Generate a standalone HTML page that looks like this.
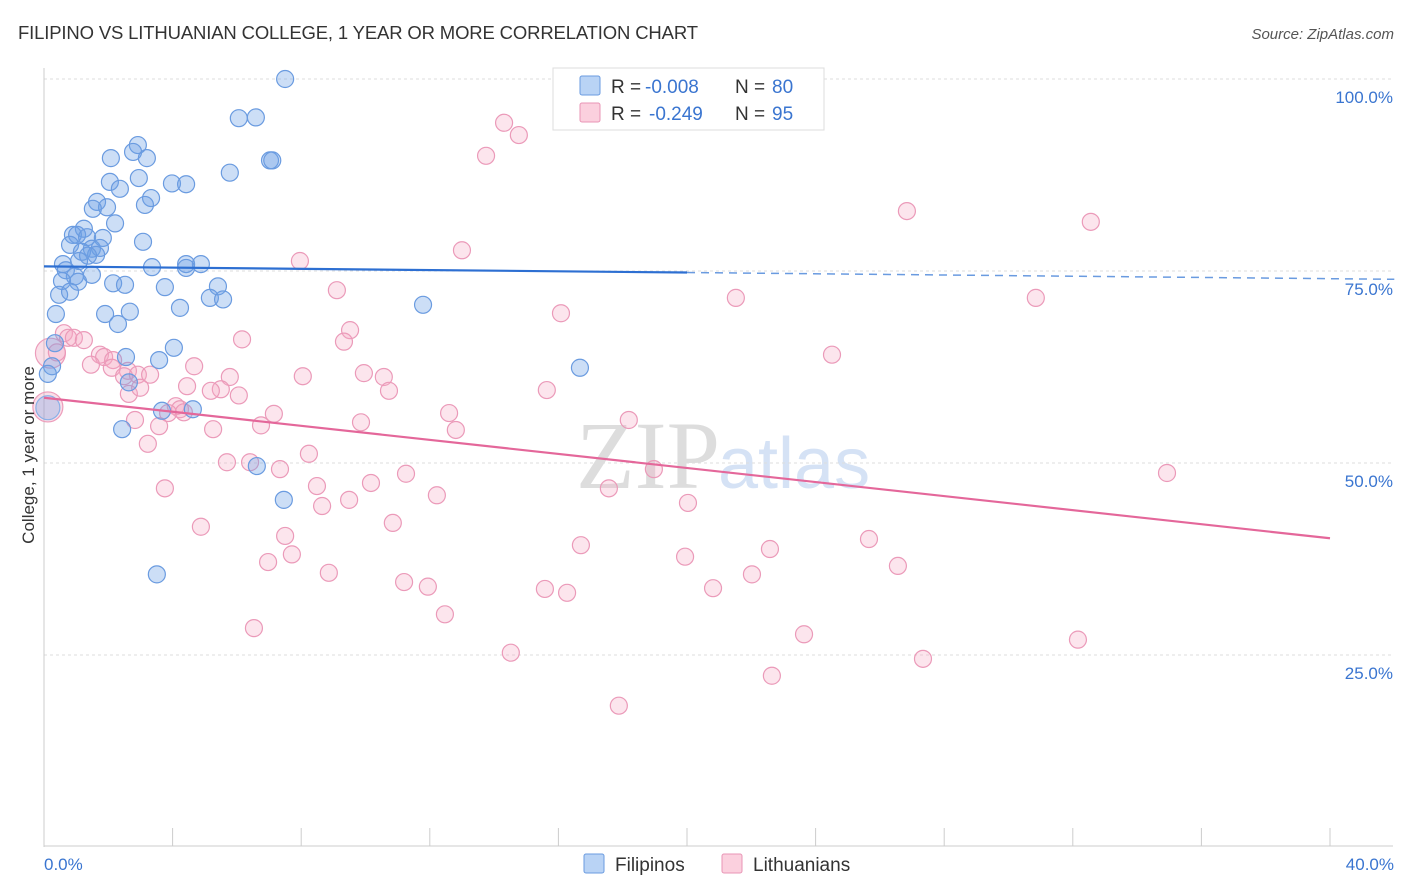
<!DOCTYPE html>
<html><head><meta charset="utf-8">
<style>
body{margin:0;background:#fff;font-family:"Liberation Sans",sans-serif;}
svg{display:block}
</style></head>
<body>
<svg id="chart" width="1406" height="892">
<text x="18" y="39" font-size="18.5" fill="#333" textLength="680">FILIPINO VS LITHUANIAN COLLEGE, 1 YEAR OR MORE CORRELATION CHART</text>
<text x="1394" y="39" font-size="15" fill="#555" font-style="italic" text-anchor="end">Source: ZipAtlas.com</text>
<text x="720" y="488" font-size="96" fill="#ddd" text-anchor="end" font-family="Liberation Serif,serif">ZIP</text>
<text x="718" y="488" font-size="72" fill="#d5e2f5">atlas</text>
<g id="grid"></g>
<g id="axes"></g>
<g id="marks"></g>
<text transform="translate(34,455) rotate(-90)" font-size="17" fill="#333" text-anchor="middle">College, 1 year or more</text>
<text x="44" y="870" font-size="17" fill="#3a75d0">0.0%</text>
<text x="1394" y="870" font-size="17" fill="#3a75d0" text-anchor="end">40.0%</text>
<g>
<rect x="553" y="68" width="271" height="62" fill="#fff" stroke="#ddd"/>
<rect x="580" y="76" width="20" height="19" fill="#b9d3f5" stroke="#6a9be0" rx="2"/>
<rect x="580" y="103" width="20" height="19" fill="#fbd0de" stroke="#e895b5" rx="2"/>
<text x="611" y="93" font-size="19" fill="#333">R =</text>
<text x="645" y="93" font-size="19" fill="#3a75d0">-0.008</text>
<text x="735" y="93" font-size="19" fill="#333">N =</text>
<text x="772" y="93" font-size="19" fill="#3a75d0">80</text>
<text x="611" y="120" font-size="19" fill="#333">R =</text>
<text x="649" y="120" font-size="19" fill="#3a75d0">-0.249</text>
<text x="735" y="120" font-size="19" fill="#333">N =</text>
<text x="772" y="120" font-size="19" fill="#3a75d0">95</text>
</g>
<g>
<rect x="584" y="854" width="20" height="19" fill="#b9d3f5" stroke="#6a9be0" rx="2"/>
<text x="615" y="871" font-size="19" fill="#333">Filipinos</text>
<rect x="722" y="854" width="20" height="19" fill="#fbd0de" stroke="#e895b5" rx="2"/>
<text x="753" y="871" font-size="19" fill="#333">Lithuanians</text>
</g>
</svg>
<script>
const blueX=[7.50,6.06,6.59,2.92,2.77,3.20,2.08,7.03,5.78,2.95,2.05,3.98,4.42,2.36,3.33,3.14,1.65,1.96,1.52,2.21,1.24,0.90,1.03,1.34,1.83,3.08,0.81,1.49,1.74,1.18,1.62,1.37,1.09,0.59,4.42,4.88,4.42,3.36,0.68,0.96,1.49,0.56,1.06,2.15,2.52,5.41,3.76,0.47,0.81,5.16,5.57,4.23,11.79,0.37,1.90,2.67,2.30,0.34,4.04,2.55,3.58,0.25,0.12,16.67,2.64,3.67,4.63,2.43,6.62,7.46,3.51,7.1];
const blueY=[100.0,94.9,95.0,91.4,90.5,89.7,89.7,89.4,87.8,87.1,86.6,86.4,86.3,85.7,84.5,83.6,84.0,83.3,83.1,81.2,80.5,79.7,79.7,79.4,79.3,78.8,78.4,77.9,78.0,77.5,77.1,77.0,76.3,75.9,75.9,75.9,75.4,75.5,75.1,74.3,74.5,73.7,73.6,73.4,73.2,73.0,72.9,71.9,72.3,71.5,71.3,70.2,70.6,69.4,69.4,69.7,68.1,65.6,65.0,63.8,63.4,62.6,61.6,62.4,60.5,56.8,57.0,54.4,49.6,45.2,35.5,89.4];
const pinkX=[14.31,14.77,13.75,26.84,32.56,13.00,7.96,9.11,21.52,30.85,16.08,9.52,6.16,9.33,0.62,0.75,0.93,1.24,0.40,24.51,1.74,1.87,2.15,1.46,4.67,2.11,2.61,2.49,2.92,3.30,5.78,8.05,9.95,10.57,4.45,5.50,10.73,15.64,5.19,6.06,2.64,2.99,4.10,4.23,3.86,4.35,7.15,12.60,2.83,3.58,9.86,18.19,5.26,6.75,12.81,3.23,5.69,6.41,8.24,7.34,18.97,11.26,34.93,8.49,10.17,3.76,17.57,12.22,9.49,8.65,20.03,10.85,4.88,7.50,16.70,25.66,22.58,7.71,6.97,19.94,8.86,22.02,26.56,11.20,11.94,15.58,16.27,20.81,12.47,6.53,23.64,32.16,14.52,27.34,22.64,17.88];
const pinkY=[94.3,92.7,90.0,82.8,81.4,77.7,76.3,72.5,71.5,71.5,69.5,67.3,66.1,65.8,66.9,66.3,66.3,66.0,64.4,64.1,64.1,63.8,63.4,62.8,62.6,62.4,62.0,61.3,61.5,61.5,61.2,61.3,61.7,61.2,60.0,59.6,59.4,59.5,59.4,58.8,59.0,59.8,57.4,57.0,56.5,56.6,56.4,56.5,55.6,54.8,55.3,55.6,54.4,54.9,54.3,52.5,50.1,50.1,51.2,49.2,49.2,48.6,48.7,47.0,47.4,46.7,46.7,45.8,45.2,44.4,44.8,42.2,41.7,40.5,39.3,40.1,38.8,38.1,37.1,37.8,35.7,35.5,36.6,34.5,33.9,33.6,33.1,33.7,30.3,28.5,27.7,27.0,25.3,24.5,22.3,18.4];
const bigPinkX=[0.12,0.2], bigPinkY=[57.3,64.3], bigBlueX=[0.12], bigBlueY=[57.2];
const yTicks=[100,75,50,25];
const yTickLabels=["100.0%","75.0%","50.0%","25.0%"];
const blueTrend=[75.6,74.8];
const pinkTrend=[58.5,40.2];
const xS=v=>44+v/40*1286, yS=v=>847-v/100*768;
const NS="http://www.w3.org/2000/svg";
function mk(p,t,a){const e=document.createElementNS(NS,t);for(const k in a)e.setAttribute(k,a[k]);p.appendChild(e);return e;}
const grid=document.getElementById('grid'),axes=document.getElementById('axes'),marks=document.getElementById('marks');
yTicks.forEach((t,i)=>{
 const l=mk(grid,'line',{x1:44,x2:1393,y1:yS(t),y2:yS(t),stroke:'#ddd','stroke-dasharray':'3,3'});
 
 
 const tx=mk(grid,'text',{x:1393,y:yS(t)+24,'font-size':17,fill:'#3a75d0','text-anchor':'end'});
 tx.textContent=yTickLabels[i];
 
 
});
const ax=mk(axes,'line',{x1:44,x2:44,y1:68,y2:847,stroke:'#ccc'});


const bx=mk(axes,'line',{x1:44,x2:1393,y1:846,y2:846,stroke:'#ccc'});


for(let i=0;i<=10;i++){const t=mk(axes,'line',{x1:xS(i*4),x2:xS(i*4),y1:828,y2:846,stroke:'#ccc'});
 
 }
function dots(X,Y,fill,stroke,r,name){X.forEach((x,i)=>{const c=mk(marks,'circle',{cx:xS(x),cy:yS(Y[i]),r:r,fill:fill,stroke:stroke,'stroke-width':1.2});
 
 });}
dots(bigPinkX,bigPinkY,'rgba(240,150,180,0.3)','#ec9dbb',15,'lithuanian-point-large');
dots(bigBlueX,bigBlueY,'rgba(110,160,230,0.3)','#8ab0e8',12,'filipino-point-large');
dots(pinkX,pinkY,'rgba(245,170,195,0.3)','#eb9ab9',8.5,'lithuanian-point');
dots(blueX,blueY,'rgba(110,160,230,0.35)','#6a9be0',8.5,'filipino-point');
const bl=mk(marks,'line',{x1:xS(0),y1:yS(blueTrend[0]),x2:xS(20),y2:yS(blueTrend[1]),stroke:'#2d6fd2','stroke-width':2.2});


const slope=(blueTrend[1]-blueTrend[0])/20;
const bd=mk(marks,'line',{x1:xS(20),y1:yS(blueTrend[1]),x2:xS(42),y2:yS(blueTrend[0]+slope*42),stroke:'#6a9be0','stroke-width':1.5,'stroke-dasharray':'8,6'});


const pl=mk(marks,'line',{x1:xS(0),y1:yS(pinkTrend[0]),x2:xS(40),y2:yS(pinkTrend[1]),stroke:'#e4679a','stroke-width':2.2});


</script>
</body></html>
